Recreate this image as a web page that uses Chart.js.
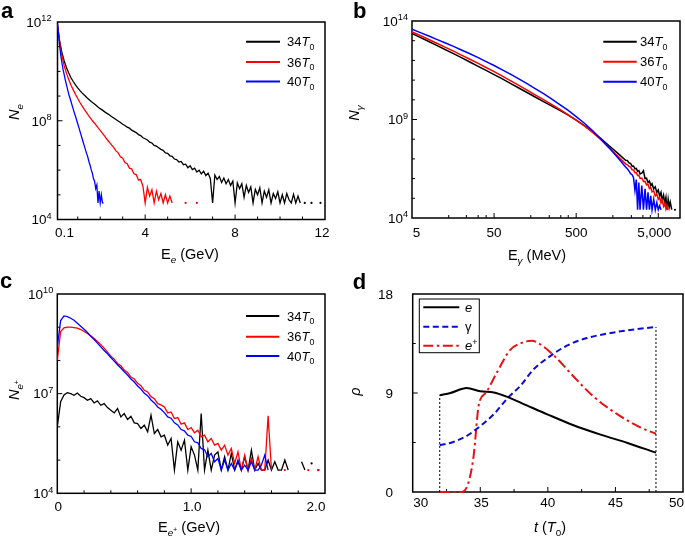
<!DOCTYPE html>
<html>
<head>
<meta charset="utf-8">
<script src="https://cdn.jsdelivr.net/npm/chart.js@4/dist/chart.umd.min.js"></script>
<style>
  html, body { margin: 0; padding: 0; background: #fff; }
  #fig { position: relative; width: 685px; height: 543px; overflow: hidden; }
  #fig canvas { position: absolute; }
</style>
</head>
<body>
<div id="fig">
  <canvas id="chartA" width="342" height="270" style="left:0;top:0"></canvas>
  <canvas id="chartB" width="343" height="270" style="left:342px;top:0"></canvas>
  <canvas id="chartC" width="342" height="273" style="left:0;top:270px"></canvas>
  <canvas id="chartD" width="343" height="273" style="left:342px;top:270px"></canvas>
</div>
<script>
// laser periods shown in panels a-c
const runs = ['34', '36', '40'];
const runColors = ['#000000', '#ff0000', '#0000ff'];

// (a) electron spectra, log10(N_e) per energy bin (GeV)
const energyA = [
  0.1,0.2,0.3,0.4,0.5,0.6,0.7,0.8,0.9,1.0,
  1.1,1.2,1.3,1.4,1.5,1.6,1.7,1.8,1.9,2.0,
  2.1,2.2,2.3,2.4,2.5,2.6,2.7,2.8,2.9,3.0,
  3.1,3.2,3.3,3.4,3.5,3.6,3.7,3.8,3.9,4.0,
  4.1,4.2,4.3,4.4,4.5,4.6,4.7,4.8,4.9,5.0,
  5.1,5.2,5.3,5.4,5.5,5.6,5.7,5.8,5.9,6.0,
  6.1,6.2,6.3,6.4,6.5,6.6,6.7,6.8,6.9,7.0,
  7.1,7.2,7.3,7.4,7.5,7.6,7.7,7.8,7.9,8.0,
  8.1,8.2,8.3,8.4,8.5,8.6,8.7,8.8,8.9,9.0,
  9.1,9.2,9.3,9.4,9.5,9.6,9.7,9.8,9.9,10.0,
  10.1,10.2,10.3,10.4,10.5,10.6,10.7,10.8,10.9,11.0,
  11.1,11.2,11.3,11.4,11.5,11.6,11.7,11.8
];
const logNe34 = [
  11.85,11.2,10.75,10.42,10.15,9.93,9.74,9.59,9.45,9.33,
  9.22,9.12,9.03,8.94,8.86,8.78,8.71,8.64,8.56,8.49,
  8.43,8.36,8.30,8.24,8.17,8.11,8.05,7.99,7.93,7.86,
  7.81,7.74,7.70,7.62,7.57,7.52,7.44,7.40,7.31,7.27,
  7.22,7.13,7.10,7.00,6.97,6.91,6.84,6.80,6.70,6.68,
  6.58,6.56,6.45,6.43,6.33,6.35,6.22,6.24,6.10,6.18,
  6.02,6.08,5.92,6.00,5.85,5.96,5.78,5.88,5.65,4.67,
  5.80,5.62,5.74,5.50,5.68,5.45,5.62,5.38,5.55,4.67,
  5.48,5.25,5.45,4.90,5.38,5.10,5.32,4.67,5.22,5.00,
  5.28,4.67,5.15,4.90,5.20,4.67,5.05,4.85,5.12,4.67,
  5.00,4.67,5.05,4.80,4.67,5.02,4.67,4.95,4.67,null,
  4.67,null,null,4.67,null,null,null,4.67
];
const logNe36 = [
  11.9,11.14,10.62,10.22,9.92,9.67,9.44,9.25,9.07,8.90,
  8.74,8.59,8.45,8.32,8.19,8.07,7.95,7.84,7.72,7.61,
  7.49,7.38,7.25,7.14,7.02,6.92,6.78,6.70,6.54,6.48,
  6.31,6.26,6.08,6.05,5.85,5.82,5.60,5.62,5.35,4.67,
  5.30,4.95,5.20,4.67,5.15,4.80,5.05,4.67,5.00,4.67,
  4.95,4.67,null,null,null,null,null,4.67,null,null,
  null,null,4.67
];
const energyA40 = [
  0.1,0.15,0.2,0.25,0.3,0.35,0.4,0.45,0.5,0.55,
  0.6,0.65,0.7,0.75,0.8,0.85,0.9,0.95,1.0,1.05,
  1.1,1.15,1.2,1.25,1.3,1.35,1.4,1.45,1.5,1.55,
  1.6,1.65,1.7,1.75,1.8,1.85,1.9,1.95,2.0,2.05,
  2.1,2.15
];
const logNe40 = [
  11.95,11.45,11.0,10.62,10.33,10.07,9.86,9.64,9.45,9.26,
  9.08,8.93,8.78,8.62,8.47,8.32,8.18,8.03,7.88,7.73,
  7.57,7.42,7.26,7.11,6.96,6.81,6.66,6.52,6.34,6.20,
  6.02,5.88,5.66,5.55,5.25,5.40,4.67,5.15,4.67,5.0,
  4.67,4.67
];
const xTickA = [0.1, 4, 8, 12];
const xTickTextA = ['0.1', '4', '8', '12'];
const yDecadeA = [4, 8, 12];

// (b) photon spectra, log10(N_gamma) per energy (MeV)
const energyB = [
  5,6,8,10,13,16,20,25,32,40,50,63,80,100,126,160,200,250,316,400,
  500,630,800,1000,1260,1600,2000,
  2100,2200,2300,2400,2500,2600,2700,2800,2900,3000,
  3150,3300,3450,3600,3750,3900,4050,4200,4400,4600,
  4800,5000,5200,5400,5600,5800,6000,6200,6400,6600,
  6800,7000,7300,7600,8000
];
const logNg34 = [
  13.37,13.21,12.96,12.76,12.53,12.34,12.14,11.93,11.70,11.49,11.28,11.06,10.82,10.60,10.37,10.13,9.91,9.69,9.46,9.22,
  8.97,8.69,8.36,8.03,7.67,7.29,6.93,
  6.92,6.80,6.77,6.63,6.64,6.50,6.52,6.37,6.41,6.24,
  6.28,6.40,6.00,6.02,5.80,5.88,5.65,5.74,5.48,5.58,
  5.30,5.42,5.10,5.30,4.90,5.15,4.75,5.05,4.42,4.95,
  4.55,4.80,4.42,null,4.42
];
const logNg36 = [
  13.45,13.30,13.06,12.87,12.65,12.47,12.27,12.07,11.85,11.64,11.43,11.20,10.96,10.73,10.49,10.24,10.01,9.77,9.51,9.24,
  8.97,8.67,8.33,7.97,7.57,7.14,6.75,
  6.70,6.62,6.58,6.45,6.43,6.30,6.30,6.16,6.17,6.02,
  6.03,5.85,5.86,5.68,5.70,5.50,5.55,5.33,5.38,5.12,
  5.22,4.95,5.05,4.75,4.90,4.60,4.75,4.45,4.65,4.42
];
const logNg40 = [
  13.58,13.45,13.24,13.07,12.87,12.71,12.53,12.35,12.14,11.94,11.74,11.52,11.29,11.06,10.82,10.56,10.31,10.05,9.76,9.46,
  9.15,8.81,8.41,8.01,7.56,7.07,6.59,
  6.50,6.38,6.25,6.20,6.05,5.40,5.95,4.42,5.80,4.42,
  5.65,4.42,5.48,4.42,5.30,4.42,5.12,4.42,4.95,4.42,
  4.78,4.42,4.62,4.42
];
const xTickB = [5, 50, 500, 5000];
const xTickTextB = ['5', '50', '500', '5,000'];
const yDecadeB = [4, 9, 14];

// (c) positron spectra, log10(N_e+) per energy bin (GeV)
const energyC = [
  0,0.025,0.05,0.075,0.1,0.125,0.15,0.175,
  0.2,0.225,0.25,0.275,0.3,0.325,0.35,0.375,
  0.4,0.425,0.45,0.475,0.5,0.525,0.55,0.575,
  0.6,0.625,0.65,0.675,0.7,0.725,0.75,0.775,
  0.8,0.825,0.85,0.875,0.9,0.925,0.95,0.975,
  1.0,1.025,1.05,1.075,1.1,1.125,1.15,1.175,
  1.2,1.225,1.25,1.275,1.3,1.325,1.35,1.375,
  1.4,1.425,1.45,1.475,1.5,1.525,1.55,1.575,
  1.6,1.625,1.65,1.675,1.7,1.725,1.75,1.775,
  1.8,1.825,1.85,1.875,1.9,1.925,1.95
];
const logNp34 = [
  6.0,6.76,6.96,7.03,7.0,6.95,7.02,6.92,
  6.88,6.80,6.85,6.72,6.78,6.65,6.70,6.58,
  6.50,6.42,6.55,6.30,6.40,6.22,6.32,6.12,
  6.10,5.95,6.05,5.85,6.35,5.80,5.92,5.70,
  5.75,5.45,5.65,4.70,5.55,5.30,5.60,4.70,
  5.40,5.15,4.70,6.40,4.70,5.30,4.70,5.15,
  5.25,4.70,5.10,4.70,5.20,4.70,4.95,4.70,
  5.10,4.70,5.30,4.70,4.90,4.70,4.70,5.00,
  4.70,4.95,4.70,4.70,5.00,4.70,null,null,
  null,4.95,4.70,null,4.90,null,4.70
];
const logNp36 = [
  8.0,8.87,8.98,9.0,9.0,8.99,8.97,8.93,
  8.87,8.81,8.74,8.66,8.57,8.47,8.37,8.25,
  8.13,8.04,7.91,7.84,7.71,7.64,7.50,7.44,
  7.31,7.24,7.10,7.05,6.91,6.85,6.70,6.66,
  6.60,6.42,6.45,6.25,6.28,6.08,6.12,5.92,
  5.98,5.82,5.90,5.70,5.75,5.55,5.65,5.45,
  5.50,5.30,5.45,5.15,5.35,4.90,5.25,4.70,
  5.15,4.70,5.05,4.70,5.10,4.70,4.70,6.33,
  4.70,null,null,null,4.70,null,null,null,
  null,null,null,4.70,null,null,4.70
];
const logNp40 = [
  8.40,9.20,9.34,9.32,9.27,9.21,9.12,9.03,
  8.94,8.84,8.73,8.63,8.52,8.41,8.30,8.20,
  8.09,7.98,7.87,7.77,7.66,7.56,7.44,7.35,
  7.23,7.14,7.01,6.94,6.81,6.72,6.60,6.53,
  6.43,6.30,6.26,6.12,6.06,5.92,5.88,5.75,
  5.71,5.55,5.52,5.35,5.31,5.10,5.20,4.95,
  5.05,4.70,5.00,4.70,4.90,4.70,5.00,4.70,
  4.85,4.70,4.95,4.70,4.70,4.85,5.15,4.70
];
const xTickC = [0, 1, 2];
const xTickTextC = ['0', '1.0', '2.0'];
const yDecadeC = [4, 7, 10];

// (d) rho versus time t (T0)
const timeE = [32, 32.8, 34, 35, 36, 37, 38.4, 40, 41.9, 43.9, 45.9, 48];
const rhoE = [8.8, 9.0, 9.45, 9.15, 9.05, 8.65, 7.9, 7.04, 6.07, 5.22, 4.46, 3.58];
const timeGamma = [32, 33, 34, 35, 36, 37, 38, 38.9, 40, 41.4, 42.9, 44.4, 45.9, 48];
const rhoGamma = [4.25, 4.55, 5.1, 6.0, 7.07, 8.5, 9.7, 11.1, 12.2, 13.3, 14.0, 14.4, 14.7, 15.0];
const timePos = [32, 33, 33.6, 34.1, 34.5, 34.9, 35.4, 36.2, 37.2, 37.95, 38.8, 39.7, 40.7, 41.9, 43.4, 45.1, 46.8, 48];
const rhoPos = [0, 0, 0, 0.76, 3.2, 8.0, 9.0, 10.8, 12.9, 13.5, 13.75, 13.2, 12.1, 10.5, 8.65, 7.1, 5.9, 5.3];
const xTickD = [30, 35, 40, 45, 50];
const yTickD = [0, 9, 18];

const FONT = '"Liberation Sans", Arial, Helvetica, sans-serif';

// draws text made of pieces: [text, flags]; i = italic, b = bold, _ = subscript, ^ = superscript
function drawRich(ctx, parts, x, y, size, align) {
  const segs = parts.map(([text, f = '']) => {
    let s = size, dy = 0;
    if (f.includes('_') && f.includes('^')) { s = size * 0.5; dy = size * 0.02; }
    else if (f.includes('_')) { s = size * 0.68; dy = size * 0.3; }
    else if (f.includes('^')) { s = size * 0.68; dy = -size * 0.4; }
    const font = (f.includes('i') ? 'italic ' : '') + (f.includes('b') ? 'bold ' : '') + s + 'px ' + FONT;
    ctx.font = font;
    return { text, font, dy, w: ctx.measureText(text).width };
  });
  const total = segs.reduce((sum, g) => sum + g.w, 0);
  let cx = align === 'center' ? x - total / 2 : align === 'right' ? x - total : x;
  ctx.textAlign = 'left';
  ctx.textBaseline = 'alphabetic';
  segs.forEach(g => {
    ctx.font = g.font;
    ctx.fillText(g.text, cx, y + g.dy);
    cx += g.w;
  });
}

// frame, inward ticks, tick labels, titles and legend
const panelPlugin = {
  id: 'panel',
  beforeDatasetsDraw(chart, args, o) {
    const { ctx, chartArea: a } = chart;
    const sx = chart.scales.x, sy = chart.scales.y;
    ctx.save();
    ctx.strokeStyle = '#000';
    ctx.lineWidth = 1;
    ctx.beginPath();
    const tickX = (vals, len) => vals.forEach(v => {
      const p = sx.getPixelForValue(v);
      ctx.moveTo(p, a.bottom); ctx.lineTo(p, a.bottom - len);
    });
    const tickY = (vals, len) => vals.forEach(v => {
      const p = sy.getPixelForValue(v);
      ctx.moveTo(a.left, p); ctx.lineTo(a.left + len, p);
    });
    tickX(o.xMajor, 5); tickX(o.xMinor, 3);
    tickY(o.yMajor, 5); tickY(o.yMinor, 3);
    ctx.stroke();
    ctx.lineWidth = 1.5;
    ctx.strokeRect(a.left, a.top, a.right - a.left, a.bottom - a.top);
    ctx.restore();
  },
  afterDatasetsDraw(chart, args, o) {
    const { ctx, chartArea: a } = chart;
    const sx = chart.scales.x, sy = chart.scales.y;
    ctx.save();
    ctx.fillStyle = '#000';
    o.xLabels.forEach(([v, text], i) => {
      drawRich(ctx, [[text]], sx.getPixelForValue(v) + (o.xNudge[i] || 0), a.bottom + o.xLabelDy, 13.5, 'center');
    });
    o.yLabels.forEach(([v, parts]) => {
      drawRich(ctx, parts, a.left - o.yLabelGap, sy.getPixelForValue(v) + 4.8, 13.5, 'right');
    });
    drawRich(ctx, o.xTitle.parts, o.xTitle.x, o.xTitle.y, 14.5, 'center');
    ctx.save();
    ctx.translate(o.yTitle.x, o.yTitle.y);
    ctx.rotate(-Math.PI / 2);
    drawRich(ctx, o.yTitle.parts, 0, 0, 14.5, 'center');
    ctx.restore();
    drawRich(ctx, [[o.letter[0], 'b']], o.letter[1], o.letter[2], 22, 'left');

    const L = o.legend;
    if (L.box) {
      ctx.strokeStyle = '#000';
      ctx.lineWidth = 1;
      ctx.strokeRect(L.box[0], L.box[1], L.box[2], L.box[3]);
    }
    L.items.forEach((it, i) => {
      const ly = L.ys[i];
      ctx.save();
      ctx.strokeStyle = it.color;
      ctx.lineWidth = 2;
      ctx.setLineDash(it.dash || []);
      ctx.beginPath();
      ctx.moveTo(L.x0, ly);
      ctx.lineTo(L.x1, ly);
      ctx.stroke();
      ctx.restore();
      drawRich(ctx, it.parts, L.tx, ly + 4.5, 13, 'left');
    });
    ctx.restore();
  }
};

// a lone bin between empty bins is shown as a dot
function dotIfAlone(ctx) {
  const d = ctx.dataset.data, i = ctx.dataIndex;
  const gone = p => !p || p.y === null;
  return gone(d[i - 1]) && gone(d[i + 1]) ? 1.1 : 0;
}

function logSeries(xs, logs) {
  return logs.map((v, i) => ({ x: xs[i], y: v === null ? null : Math.pow(10, v) }));
}

function spectrumSets(xsList, logsList, width) {
  return logsList.map((logs, k) => ({
    data: logSeries(xsList[k], logs),
    borderColor: runColors[k],
    backgroundColor: runColors[k],
    borderWidth: width,
    pointRadius: dotIfAlone,
    pointHoverRadius: 0,
    pointBorderWidth: 0,
    order: 3 - k
  }));
}

const runLegend = runs.map((r, k) => ({ parts: [[r], ['T', 'i'], ['0', '_']], color: runColors[k] }));
const decadeLabels = exps => exps.map(n => [Math.pow(10, n), [['10'], [String(n), '^']]]);
const pairs = (vals, texts) => vals.map((v, i) => [v, texts[i]]);

function makeChart(id, datasets, xScale, yScale, padding, panel) {
  return new Chart(document.getElementById(id), {
    type: 'line',
    data: { datasets },
    options: {
      responsive: false,
      animation: false,
      devicePixelRatio: 1,
      layout: { padding },
      scales: {
        x: Object.assign({ display: false }, xScale),
        y: Object.assign({ display: false }, yScale)
      },
      plugins: { legend: { display: false }, tooltip: { enabled: false }, panel }
    },
    plugins: [panelPlugin]
  });
}

// panel a
makeChart('chartA',
  spectrumSets([energyA, energyA, energyA40], [logNe34, logNe36, logNe40], 1.3),
  { type: 'linear', min: 0.1, max: 12 },
  { type: 'logarithmic', min: 1e4, max: 1e12 },
  { left: 57.5, top: 22, right: 17, bottom: 50.5 },
  {
    letter: ['a', 1, 17.5],
    xMajor: [4, 8], xMinor: [1, 2, 3, 5, 6, 7, 9, 10, 11],
    yMajor: [1e8], yMinor: [1e5, 1e6, 1e7, 1e9, 1e10, 1e11],
    xLabels: pairs(xTickA, xTickTextA), xNudge: [7, 0, 0, -3], xLabelDy: 17.5,
    yLabels: decadeLabels(yDecadeA), yLabelGap: 6,
    xTitle: { parts: [['E'], ['e', 'i_'], [' (GeV)']], x: 190, y: 259 },
    yTitle: { parts: [['N', 'i'], ['e', 'i_']], x: 18.5, y: 112 },
    legend: { x0: 246, x1: 280, tx: 287, ys: [41.7, 62, 81.5], items: runLegend }
  });

// panel b
makeChart('chartB',
  spectrumSets([energyB, energyB, energyB], [logNg34, logNg36, logNg40], 1.5),
  { type: 'logarithmic', min: 5, max: 9200 },
  { type: 'logarithmic', min: 1e4, max: 1e14 },
  { left: 70, top: 21, right: 5, bottom: 52 },
  {
    letter: ['b', 11, 18.3],
    xMajor: [50, 500, 5000], xMinor: [14, 23, 32, 40, 140, 235, 325, 400, 1400, 2350, 3250, 4000],
    yMajor: [1e9], yMinor: [1e5, 1e6, 1e7, 1e8, 1e10, 1e11, 1e12, 1e13],
    xLabels: pairs(xTickB, xTickTextB), xNudge: [4.5, 0, 0, -4], xLabelDy: 19,
    yLabels: decadeLabels(yDecadeB), yLabelGap: 4,
    xTitle: { parts: [['E'], ['γ', 'i_'], [' (MeV)']], x: 195, y: 260 },
    yTitle: { parts: [['N', 'i'], ['γ', 'i_']], x: 16.5, y: 113 },
    legend: { x0: 261.3, x1: 294.7, tx: 298, ys: [41.7, 61.7, 81.7], items: runLegend }
  });

// panel c
makeChart('chartC',
  spectrumSets([energyC, energyC, energyC], [logNp34, logNp36, logNp40], 1.3),
  { type: 'linear', min: 0, max: 2 },
  { type: 'logarithmic', min: 1e4, max: 1e10 },
  { left: 57.3, top: 24, right: 17, bottom: 49.7 },
  {
    letter: ['c', 0, 18.3],
    xMajor: [1], xMinor: [0.2, 0.4, 0.6, 0.8, 1.2, 1.4, 1.6, 1.8],
    yMajor: [1e7], yMinor: [1e5, 1e6, 1e8, 1e9],
    xLabels: pairs(xTickC, xTickTextC), xNudge: [1, 1, -9], xLabelDy: 17.4,
    yLabels: decadeLabels(yDecadeC), yLabelGap: 4,
    xTitle: { parts: [['E'], ['e', 'i_'], ['+', '_^'], [' (GeV)']], x: 189, y: 262 },
    yTitle: { parts: [['N', 'i'], ['e', 'i_'], ['+', '_^']], x: 18.5, y: 120 },
    legend: { x0: 246, x1: 279.3, tx: 287, ys: [46, 66.7, 86], items: runLegend }
  });

// panel d
const rhoSeries = (xs, ys) => ys.map((v, i) => ({ x: xs[i], y: v }));
const lineD = (data, color, dash) => ({
  data, borderColor: color, borderWidth: 2, borderDash: dash,
  pointRadius: 0, cubicInterpolationMode: 'monotone', clip: 4
});
const dropLine = (t, top) => ({
  data: [{ x: t, y: 0 }, { x: t, y: top }],
  borderColor: '#000', borderWidth: 1, borderDash: [2, 2], pointRadius: 0, clip: 4
});
const lastE = timeE.length - 1, lastG = timeGamma.length - 1;
makeChart('chartD',
  [
    dropLine(timeE[0], Math.max(rhoE[0], rhoGamma[0])),
    dropLine(timeE[lastE], Math.max(rhoE[lastE], rhoGamma[lastG])),
    lineD(rhoSeries(timeE, rhoE), '#000000', []),
    lineD(rhoSeries(timeGamma, rhoGamma), '#0a0ad8', [6, 3.5]),
    lineD(rhoSeries(timePos, rhoPos), '#e81010', [10, 3.5, 2.5, 3.5])
  ],
  { type: 'linear', min: 30, max: 50 },
  { type: 'linear', min: 0, max: 18 },
  { left: 70.7, top: 24, right: 2, bottom: 51 },
  {
    letter: ['d', 10.7, 19.3],
    xMajor: [35, 40, 45], xMinor: [32.5, 37.5, 42.5, 47.5],
    yMajor: [9], yMinor: [4.5, 13.5],
    xLabels: xTickD.map(v => [v, String(v)]), xNudge: [8, 1, 0, 0, -6.5], xLabelDy: 15,
    yLabels: yTickD.map(v => [v, [[String(v)]]]), yLabelGap: 19.7,
    xTitle: { parts: [['t', 'i'], [' ('], ['T', 'i'], ['0', '_'], [')']], x: 208, y: 262 },
    yTitle: { parts: [['ρ', 'i']], x: 18, y: 121.7 },
    legend: {
      box: [77.3, 29, 60, 53.7], x0: 81.3, x1: 117.3, tx: 123, ys: [37.3, 56.7, 75.7],
      items: [
        { parts: [['e', 'i']], color: '#000000' },
        { parts: [['γ']], color: '#0a0ad8', dash: [6, 3.5] },
        { parts: [['e', 'i'], ['+', '^']], color: '#e81010', dash: [10, 3.5, 2.5, 3.5] }
      ]
    }
  });
</script>
</body>
</html>
